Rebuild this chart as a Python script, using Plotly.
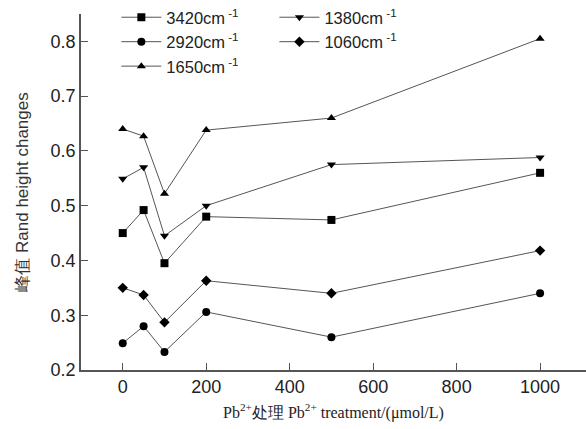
import plotly.graph_objects as go

x_vals = [0, 50, 100, 200, 500, 1000]
series_names = ["3420cm<sup> -1</sup>", "1380cm<sup> -1</sup>", "2920cm<sup> -1</sup>", "1060cm<sup> -1</sup>", "1650cm<sup> -1</sup>"]
y_3420 = [0.45, 0.492, 0.395, 0.48, 0.474, 0.56]
y_1380 = [0.549, 0.57, 0.445, 0.50, 0.575, 0.588]
y_2920 = [0.249, 0.28, 0.233, 0.306, 0.26, 0.34]
y_1060 = [0.35, 0.337, 0.287, 0.363, 0.34, 0.418]
y_1650 = [0.64, 0.627, 0.522, 0.638, 0.66, 0.805]
symbols = ["square", "triangle-down", "circle", "diamond", "triangle-up"]
legend_ids = ["legend", "legend2", "legend", "legend2", "legend"]
x_ticks = [0, 200, 400, 600, 800, 1000]
y_ticks = [0.2, 0.3, 0.4, 0.5, 0.6, 0.7, 0.8]

fig = go.Figure()
for name, ys, sym, lg in zip(series_names, [y_3420, y_1380, y_2920, y_1060, y_1650], symbols, legend_ids):
    fig.add_trace(go.Scatter(
        x=x_vals, y=ys, name=name, mode="lines+markers", legend=lg,
        line=dict(color="#555555", width=1),
        marker=dict(symbol=sym, size=8, color="black"),
    ))

legend_common = dict(
    orientation="v", yanchor="top", xanchor="left", y=1.04,
    font=dict(size=16.5), bgcolor="rgba(0,0,0,0)", itemwidth=40, tracegroupgap=0,
)

fig.update_layout(
    width=586, height=429,
    margin=dict(l=81, r=0, t=13, b=59),
    paper_bgcolor="white", plot_bgcolor="white",
    font=dict(family="Liberation Sans, Arial", size=18, color="#222"),
    legend=dict(x=0.07, **legend_common),
    legend2=dict(x=0.383, **legend_common),
    xaxis=dict(
        range=[-100, 1110], tickvals=x_ticks, ticks="inside", ticklen=7,
        showline=True, linecolor="#555", linewidth=1.5, showgrid=False, zeroline=False,
        tickcolor="#555",
        title=dict(text="Pb<sup>2+</sup>处理 Pb<sup>2+</sup> treatment/(μmol/L)",
                   font=dict(family="Liberation Serif, Times New Roman, serif", size=16, color="#222"),
                   standoff=10),
    ),
    yaxis=dict(
        range=[0.2, 0.85], tickvals=y_ticks, tickformat=".1f", ticks="inside", ticklen=7,
        showline=True, linecolor="#555", linewidth=1.5, showgrid=False, zeroline=False,
        tickcolor="#555",
        title=dict(text="峰值 Rand height changes", font=dict(size=17, color="#333"), standoff=18),
    ),
)
fig.write_html("out.html")
